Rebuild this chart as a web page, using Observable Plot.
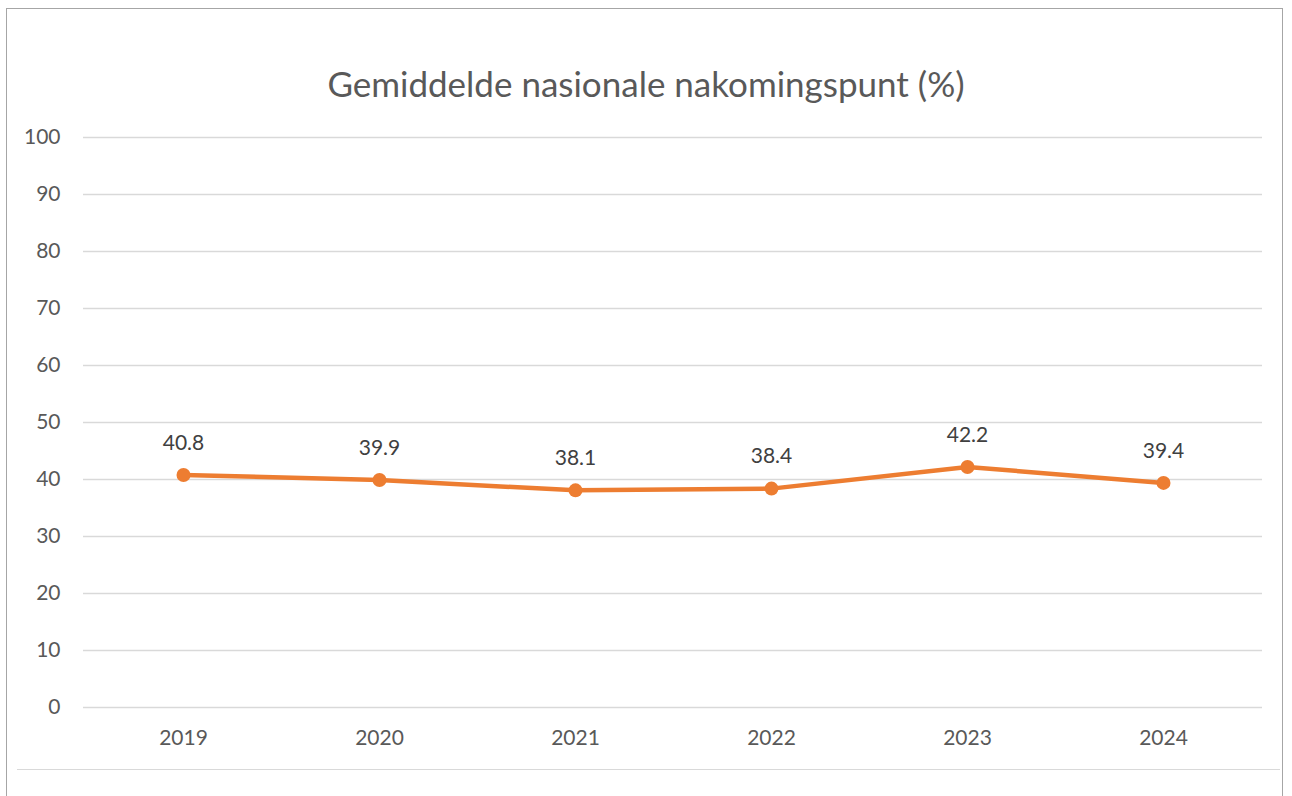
<!DOCTYPE html>
<html>
<head>
<meta charset="utf-8">
<script src="https://cdn.jsdelivr.net/npm/d3@7"></script>
<script src="https://cdn.jsdelivr.net/npm/@observablehq/plot@0.6"></script>
<style>
  html, body { margin: 0; padding: 0; background: #fff; }
  #wrap { position: relative; width: 1292px; height: 796px; overflow: hidden; font-family: Lato, "Open Sans", sans-serif; }
  #frame { position: absolute; left: 6px; top: 8px; width: 1277px; height: 820px; border: 1.5px solid #a6a6a6; box-sizing: border-box; }
  #bottomline { position: absolute; left: 17px; top: 769px; width: 1263px; height: 0; border-top: 1.5px solid #d9d9d9; }
  #title { position: absolute; left: 0; top: 0; width: 1292px; height: 120px; text-align: center; line-height: 166px; font-size: 35px; color: #595959; }
  #chart { position: absolute; left: 0; top: 120px; }
</style>
</head>
<body>
<div id="wrap">
  <div id="frame"></div>
  <div id="bottomline"></div>
  <div id="title">Gemiddelde nasionale nakomingspunt (%)</div>
  <div id="chart"></div>
</div>
<script>
const years = ["2019", "2020", "2021", "2022", "2023", "2024"];
const values = [40.8, 39.9, 38.1, 38.4, 42.2, 39.4];
const yTicks = [0, 10, 20, 30, 40, 50, 60, 70, 80, 90, 100];

const data = years.map((y, i) => ({year: y, value: values[i]}));

const chart = Plot.plot({
  width: 1292,
  height: 676,
  marginLeft: 83,
  marginRight: 30,
  marginTop: 17,
  marginBottom: 89,
  style: {fontFamily: "Lato, 'Open Sans', sans-serif", fontSize: "21px", color: "#595959", background: "transparent"},
  x: {type: "point", domain: years, padding: 0.5, label: null},
  y: {domain: [0, 100], label: null},
  marks: [
    Plot.gridY(yTicks, {stroke: "#d9d9d9", strokeOpacity: 1, strokeWidth: 1.5}),
    Plot.axisY({ticks: yTicks, tickSize: 0, tickPadding: 23, label: null, fill: "#595959", fontSize: 21}),
    Plot.axisX({tickSize: 0, tickPadding: 23, label: null, fill: "#595959", fontSize: 21}),
    Plot.line(data, {x: "year", y: "value", stroke: "#ED7D31", strokeWidth: 4.5}),
    Plot.dot(data, {x: "year", y: "value", r: 7, fill: "#ED7D31", stroke: "none"}),
    Plot.text(data, {x: "year", y: "value", text: d => d.value.toFixed(1), dy: -32, fill: "#404040", fontSize: 21})
  ]
});
document.getElementById("chart").appendChild(chart);
</script>
</body>
</html>
